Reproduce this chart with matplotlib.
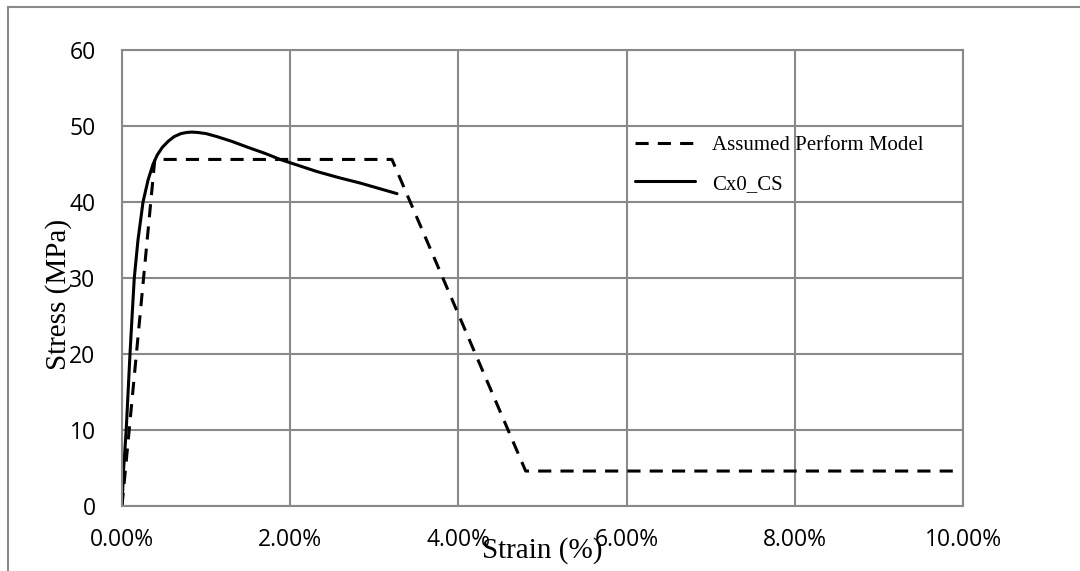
import matplotlib.pyplot as plt
from matplotlib.lines import Line2D
from matplotlib.ticker import FuncFormatter

# --- Data (strain as fraction, stress in MPa) ---
model_strain = [0.0, 0.0039, 0.0321, 0.0480, 0.100]
model_stress = [0.0, 45.6, 45.6, 4.6, 4.6]

cs_strain = [0.0, 0.0002, 0.0005, 0.00095, 0.0012, 0.00146, 0.0019, 0.0025, 0.0031,
             0.0037, 0.0042, 0.0048, 0.0055, 0.0062, 0.0070, 0.0077, 0.0083, 0.0090,
             0.0100, 0.0113, 0.0130, 0.0152, 0.0170, 0.0188, 0.0210, 0.0232,
             0.0258, 0.0283, 0.0305, 0.0327]
cs_stress = [0.0, 5.0, 10.0, 20.0, 25.0, 30.0, 35.0, 40.0, 42.9,
             45.0, 46.2, 47.2, 48.0, 48.6, 49.0, 49.15, 49.2, 49.15,
             49.0, 48.6, 48.0, 47.1, 46.4, 45.6, 44.8, 44.0,
             43.2, 42.5, 41.8, 41.1]

labels = ['Assumed Perform Model', 'Cx0_CS']
x_ticks = [0.0, 0.02, 0.04, 0.06, 0.08, 0.10]
y_ticks = [0, 10, 20, 30, 40, 50, 60]

grid_col = '#898989'
tick_font = 'Open Sans'
serif = 'Liberation Serif'

fig = plt.figure(figsize=(10.8, 5.71), dpi=100)
ax = fig.add_axes([122 / 1080, 65 / 571, 841 / 1080, 456 / 571])

ax.plot(model_strain, model_stress, color='black', lw=2.2, dashes=(4.3, 3.0),
        dash_capstyle='butt', label=labels[0])
ax.plot(cs_strain, cs_stress, color='black', lw=2.2, solid_capstyle='round',
        solid_joinstyle='round', label=labels[1])

ax.set_xlim(0, 0.10)
ax.set_ylim(0, 60)
ax.set_xticks(x_ticks)
ax.set_yticks(y_ticks)
ax.xaxis.set_major_formatter(FuncFormatter(lambda v, p: f'{v * 100:.2f}%'))
ax.grid(True, color=grid_col, lw=1.5)
ax.set_axisbelow(True)
for s in ax.spines.values():
    s.set_color(grid_col)
    s.set_linewidth(1.5)
ax.tick_params(length=0)
ax.tick_params(axis='x', pad=16)
ax.tick_params(axis='y', pad=19)
for t in ax.get_xticklabels() + ax.get_yticklabels():
    t.set_fontfamily(tick_font)
    t.set_fontsize(16.5)
    t.set_color('black')

ax.set_xlabel('Strain (%)', fontfamily=serif, fontsize=21)
ax.xaxis.set_label_coords(0.5, -0.068)
ax.set_ylabel('Stress (MPa)', fontfamily=serif, fontsize=21)
ax.yaxis.set_label_coords(-0.06, 0.465)

ax.legend(loc='upper left', bbox_to_anchor=(0.61, 0.812), frameon=False,
          prop={'family': serif, 'size': 15}, handlelength=2.9,
          handletextpad=0.8, labelspacing=0.9, borderpad=0, borderaxespad=0)

# outer chart border (only top and left visible)
fig.add_artist(Line2D([8 / 1080, 1.0], [1 - 7 / 571, 1 - 7 / 571],
                      transform=fig.transFigure, color=grid_col, lw=1.5))
fig.add_artist(Line2D([8 / 1080, 8 / 1080], [0.0, 1 - 7 / 571],
                      transform=fig.transFigure, color=grid_col, lw=1.5))

fig.savefig('out.png', dpi=100)
